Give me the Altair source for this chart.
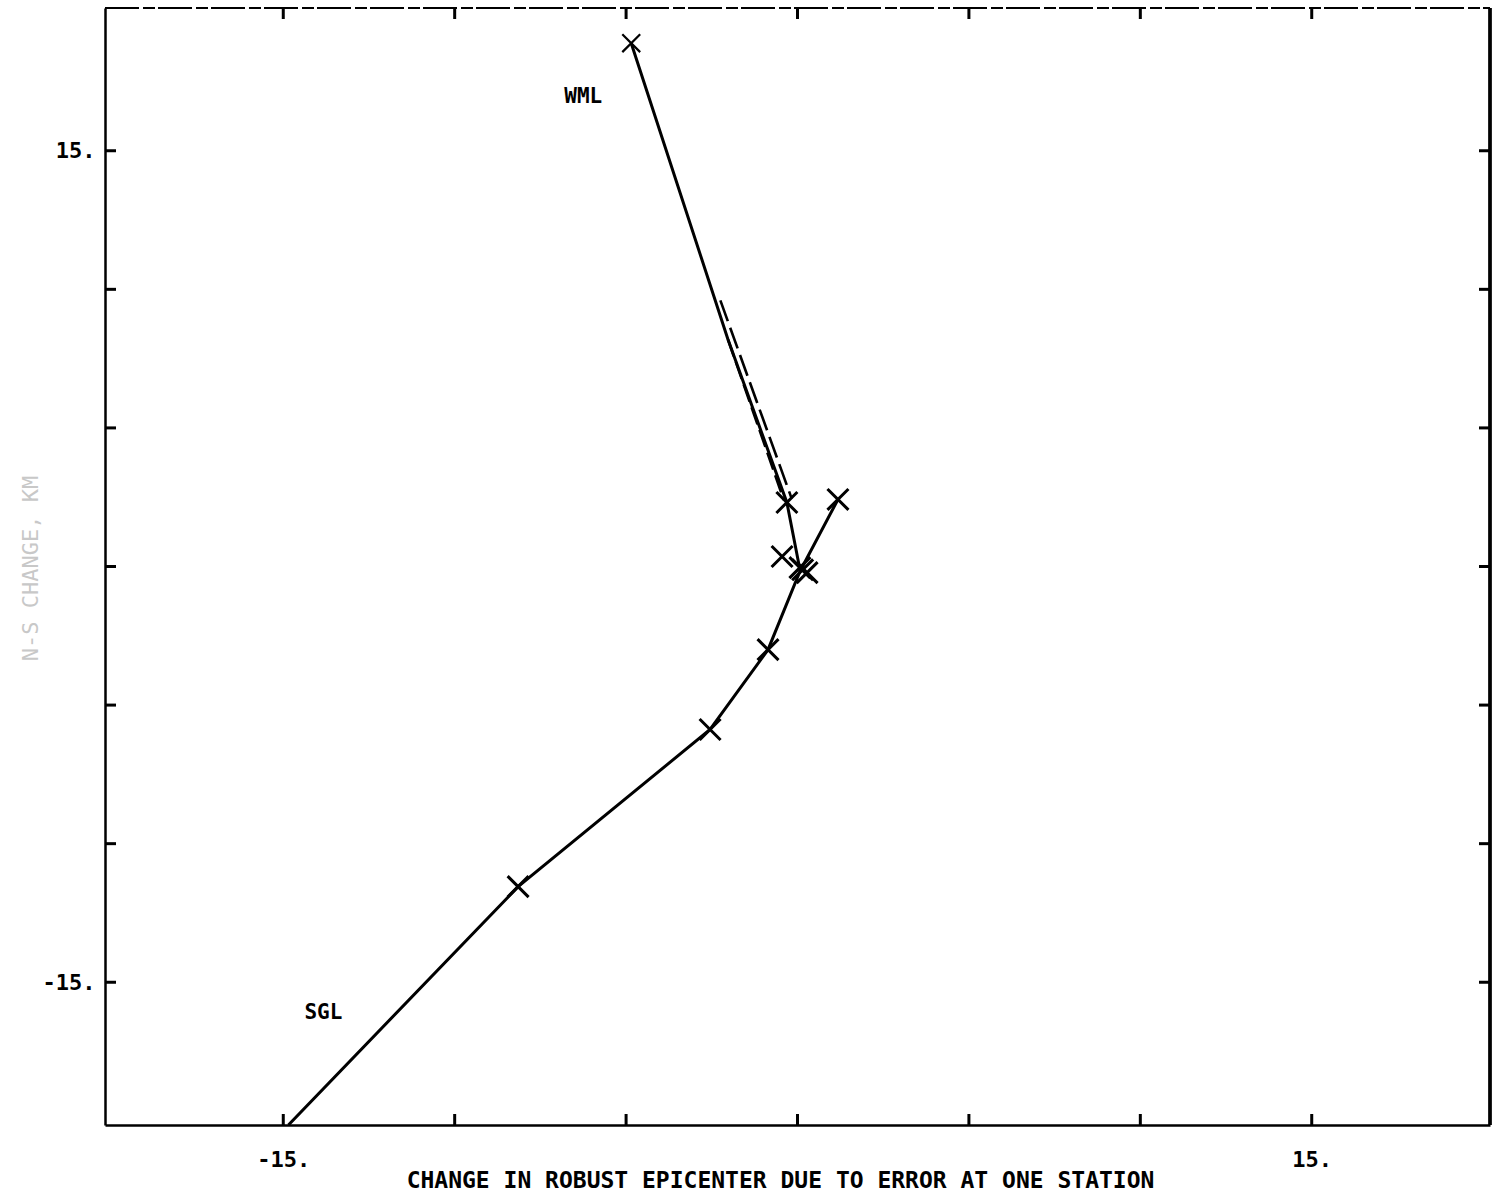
import altair as alt
import pandas as pd

# ---- data ----
wml_x = [-4.85, -2.03, -0.31, 0.07]
wml_y = [18.88, 8.20, 2.31, -0.11]
wml_dash_x = [-2.25, -0.17]
wml_dash_y = [9.60, 2.45]
wml_dash2_x = [-2.03, -0.40]
wml_dash2_y = [8.20, 2.40]
sgl_x = [-14.85, -8.15, -2.55, -0.86, 0.07, 1.18]
sgl_y = [-20.15, -11.55, -5.88, -3.00, -0.18, 2.42]
mark_x = [-0.31, -0.45, 0.28, 0.07, 0.15, -8.15, -2.55, -0.86, 1.18]
mark_y = [2.31, 0.36, -0.22, -0.04, -0.12, -11.55, -5.88, -3.00, 2.42]
top_mark_x = [-4.85]
top_mark_y = [18.88]
label_text = ["WML", "SGL"]
label_x = [-6.25, -13.83]
label_y = [16.93, -16.10]
tick_vals = [-15, -10, -5, 0, 5, 10, 15]
label_vals = [-15, 15]

W, H = 1385, 1117
XD = [-20.2, 20.2]
YD = [-20.15, 20.15]
FONT = "DejaVu Sans Mono"

xs = alt.Scale(domain=XD, nice=False, zero=False)
ys = alt.Scale(domain=YD, nice=False, zero=False)

x_axis = alt.Axis(values=label_vals, labelExpr="datum.value + '.'", grid=False,
                  ticks=False, domain=True, domainColor="black", domainWidth=2.5,
                  labelFont=FONT, labelFontSize=22, labelFontWeight="bold",
                  labelColor="black", labelPadding=24,
                  title="CHANGE IN ROBUST EPICENTER DUE TO ERROR AT ONE STATION",
                  titleFont=FONT, titleFontSize=23, titleFontWeight="bold",
                  titleColor="black", titleX=675, titleY=62,
                  titleBaseline="alphabetic", titleAlign="center")
y_axis = alt.Axis(values=label_vals, labelExpr="datum.value + '.'", grid=False,
                  ticks=False, domain=True, domainColor="black", domainWidth=2.5,
                  labelFont=FONT, labelFontSize=22, labelFontWeight="bold",
                  labelColor="black", labelPadding=10,
                  title="N-S CHANGE, KM", titleFont=FONT, titleFontSize=22,
                  titleFontWeight="normal", titleColor="#c8c8c8",
                  titleX=-75, titleY=560, titleAngle=270,
                  titleBaseline="middle", titleAlign="center")

wml_df = pd.DataFrame({"x": wml_x, "y": wml_y, "i": range(len(wml_x))})
wml_d1 = pd.DataFrame({"x": wml_dash_x, "y": wml_dash_y, "i": range(2)})
wml_d2 = pd.DataFrame({"x": wml_dash2_x, "y": wml_dash2_y, "i": range(2)})
sgl_df = pd.DataFrame({"x": sgl_x, "y": sgl_y, "i": range(len(sgl_x))})
mk_df = pd.DataFrame({"x": mark_x, "y": mark_y})
tmk_df = pd.DataFrame({"x": top_mark_x, "y": top_mark_y})
lab_df = pd.DataFrame({"t": label_text, "x": label_x, "y": label_y})
tick_df = pd.DataFrame({"v": tick_vals})

base_line = alt.Chart(wml_df).mark_line(color="black", strokeWidth=3, clip=True).encode(
    x=alt.X("x:Q", scale=xs, axis=x_axis),
    y=alt.Y("y:Q", scale=ys, axis=y_axis),
    order="i:Q",
)

def line(df, dash=None, width=2.8):
    kw = dict(color="black", strokeWidth=width, clip=True)
    if dash:
        kw["strokeDash"] = dash
    return alt.Chart(df).mark_line(**kw).encode(
        x=alt.X("x:Q", scale=xs), y=alt.Y("y:Q", scale=ys), order="i:Q")

XPATH = "M-1,-1L1,1M1,-1L-1,1"
marks = alt.Chart(mk_df).mark_point(shape=XPATH, size=440, filled=False,
                                     color="black", strokeWidth=3, opacity=1).encode(
    x=alt.X("x:Q", scale=xs), y=alt.Y("y:Q", scale=ys))
top_marks = alt.Chart(tmk_df).mark_point(shape=XPATH, size=320, filled=False,
                                          color="black", strokeWidth=2.2, opacity=1).encode(
    x=alt.X("x:Q", scale=xs), y=alt.Y("y:Q", scale=ys))

labels = alt.Chart(lab_df).mark_text(font=FONT, fontSize=21, fontWeight="bold",
                                     color="black").encode(
    x=alt.X("x:Q", scale=xs), y=alt.Y("y:Q", scale=ys), text="t:N")

tk = dict(color="black", strokeWidth=3)
tick_bottom = alt.Chart(tick_df).mark_rule(**tk).encode(
    x=alt.X("v:Q", scale=xs), y=alt.value(H), y2=alt.value(H - 11))
tick_top = alt.Chart(tick_df).mark_rule(**tk).encode(
    x=alt.X("v:Q", scale=xs), y=alt.value(0), y2=alt.value(11))
tick_left = alt.Chart(tick_df).mark_rule(**tk).encode(
    y=alt.Y("v:Q", scale=ys), x=alt.value(0), x2=alt.value(11))
tick_right = alt.Chart(tick_df).mark_rule(**tk).encode(
    y=alt.Y("v:Q", scale=ys), x=alt.value(W), x2=alt.value(W - 11))

frame_top = alt.Chart(tick_df).mark_rule(color="black", strokeWidth=2,
                                         strokeDash=[34, 4, 12, 3]).encode(
    x=alt.value(0), x2=alt.value(W), y=alt.value(0))
frame_right = alt.Chart(tick_df).mark_rule(color="black", strokeWidth=2.5).encode(
    x=alt.value(W), y=alt.value(0), y2=alt.value(H))

chart = alt.layer(
    base_line,
    line(wml_d1, dash=[22, 7], width=2.6),
    line(wml_d2, dash=[18, 6], width=2.6),
    line(sgl_df, width=3),
    marks, top_marks, labels,
    tick_bottom, tick_top, tick_left, tick_right, frame_top, frame_right,
).properties(
    width=W, height=H,
    autosize=alt.AutoSizeParams(type="none"),
    padding={"left": 105, "top": 8, "right": 11, "bottom": 76},
    background="white",
).configure_view(stroke=None)

chart.save("out.html", embed_options={"renderer": "svg", "actions": False})
